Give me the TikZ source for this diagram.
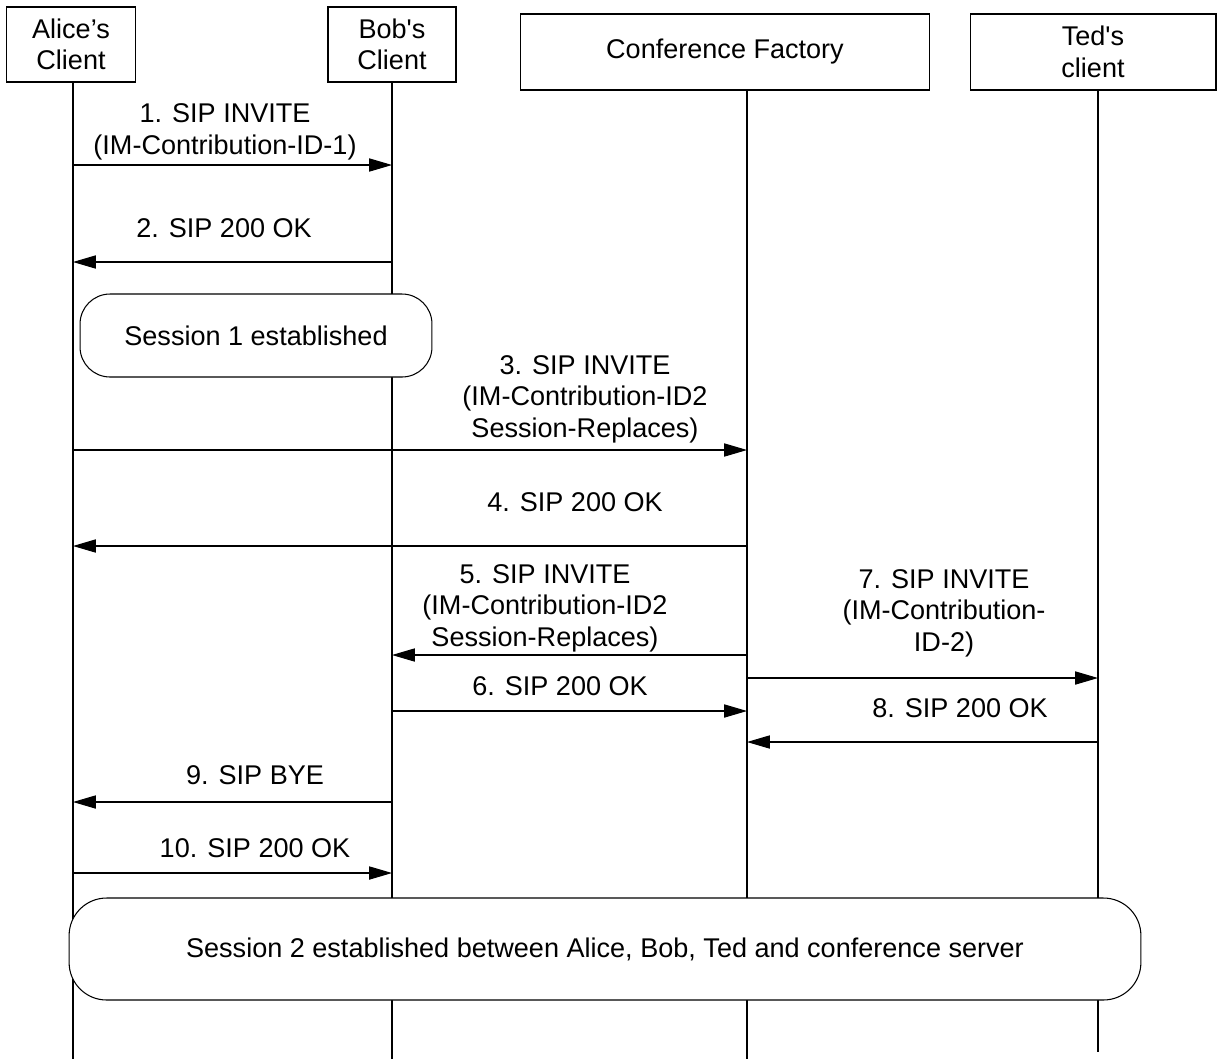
\documentclass[tikz,border=0pt]{standalone}
\usepackage{xcolor}
\usepackage{fontspec}
\setmainfont{Liberation Sans}[Ligatures=TeXOff]
\usepackage{tikz}
\usetikzlibrary{shapes,arrows,arrows.meta,positioning}

\tikzset{
    entity/.style={draw, line width=0.6pt, inner sep=0pt, align=center, minimum height=1.5cm},
    lifeline/.style={line width=0.6pt},
    msg/.style={-{Triangle[length=13pt,width=7.5pt]}, line width=0.6pt},
    session/.style={draw, fill=white, line width=0.6pt, align=center, inner sep=0pt},
    lbl/.style={align=center, inner sep=0pt}
}

\begin{document}
\begin{tikzpicture}[x=0.02cm, y=-0.02cm, font=\fontsize{15.4}{18}\selectfont]
                \useasboundingbox (0,0) rectangle (1217,1059);

                \node[
                    entity,
                    minimum width=2.58cm
                    ] (alice) at (71,44.5) {Alice’s\\Client};

                \node[
                    entity,
                    minimum width=2.56cm
                    ] (bob) at (392,44.5) {Bob's\\Client};

                \node[
                    entity,
                    minimum width=8.2cm,
                    minimum height=1.52cm
                    ] (cf) at (725,52) {Conference Factory};

                \node[
                    entity,
                    minimum width=4.92cm,
                    minimum height=1.52cm
                    ] (ted) at (1093,52) {Ted's\\client};

                \coordinate (aliceL) at (73,1059);
                \coordinate (bobL) at (392,1059);
                \coordinate (cfL) at (747,1059);
                \coordinate (tedL) at (1098,1052);

                \draw[lifeline] (alice.south -| aliceL) -- (aliceL);
                \draw[lifeline] (bob) -- (bobL);
                \draw[lifeline] (cf.south -| cfL) -- (cfL);
                \draw[lifeline] (ted.south -| tedL) -- (tedL);

                % session 1 between Alice and Bob
                \draw[msg] (aliceL |- 0,165) -- (bobL |- 0,165);
                \node[lbl] (l1) at (225,132) {1. SIP INVITE\\(IM-Contribution-ID-1)};

                \draw[msg] (bobL |- 0,262) -- (aliceL |- 0,262);
                \node[lbl] (l2) at (224,228) {2. SIP 200 OK};

                \node[
                    session,
                    rounded corners=0.6cm,
                    minimum width=7.04cm,
                    minimum height=1.66cm
                    ] (s1) at (256,335.5) {Session 1 established};

                % moving to the conference
                \draw[msg] (aliceL |- 0,450) -- (cfL |- 0,450);
                \node[lbl] (l3) at (585,399) {3. SIP INVITE\\(IM-Contribution-ID2\\Session-Replaces)};

                \draw[msg] (cfL |- 0,546) -- (aliceL |- 0,546);
                \node[lbl] (l4) at (575,502) {4. SIP 200 OK};

                \draw[msg] (cfL |- 0,655) -- (bobL |- 0,655);
                \node[lbl] (l5) at (545,608) {5. SIP INVITE\\(IM-Contribution-ID2\\Session-Replaces)};

                \draw[msg] (bobL |- 0,711) -- (cfL |- 0,711);
                \node[lbl] (l6) at (560,686) {6. SIP 200 OK};

                \draw[msg] (cfL |- 0,678) -- (tedL |- 0,678);
                \node[lbl] (l7) at (944,613) {7. SIP INVITE\\(IM-Contribution-\\ID-2)};

                \draw[msg] (tedL |- 0,742) -- (cfL |- 0,742);
                \node[lbl] (l8) at (960,708) {8. SIP 200 OK};

                % Bob leaves session 1
                \draw[msg] (bobL |- 0,802) -- (aliceL |- 0,802);
                \node[lbl] (l9) at (255,775) {9. SIP BYE};

                \draw[msg] (aliceL |- 0,873) -- (bobL |- 0,873);
                \node[lbl] (l10) at (255,848) {10. SIP 200 OK};

                \node[
                    session,
                    rounded corners=0.75cm,
                    minimum width=21.44cm,
                    minimum height=2.04cm
                    ] (s2) at (605,949) {Session 2 established between Alice, Bob, Ted and conference server};

            \end{tikzpicture}
\end{document}
